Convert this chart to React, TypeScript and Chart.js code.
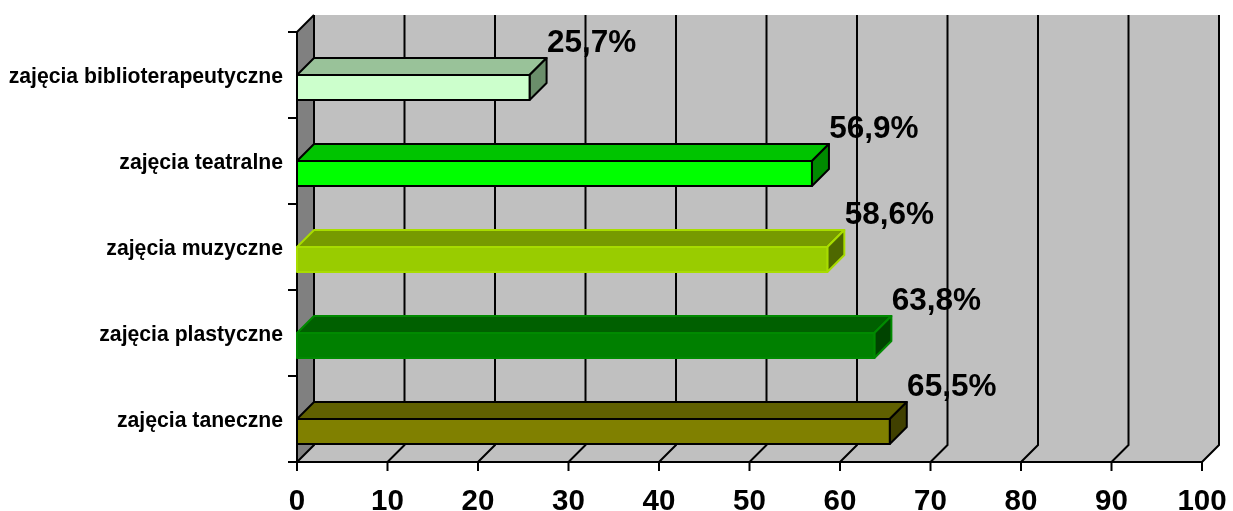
import React, { useEffect, useRef } from "react";
import { Chart, registerables } from "chart.js";

Chart.register(...registerables);

const categories = [
  "zajęcia biblioterapeutyczne",
  "zajęcia teatralne",
  "zajęcia muzyczne",
  "zajęcia plastyczne",
  "zajęcia taneczne",
];
const values = [25.7, 56.9, 58.6, 63.8, 65.5];
const frontColors = ["#CCFFCC", "#00FF00", "#99CC00", "#008000", "#808000"];
const topColors = ["#99C299", "#00C400", "#779A00", "#006000", "#606000"];
const sideColors = ["#6B8E6B", "#008A00", "#4E6800", "#004400", "#404000"];
const edgeColors = ["#000000", "#000000", "#A8DC00", "#008A00", "#000000"];

const FONT = '"Liberation Sans", Arial, sans-serif';
const D = 17;

const threeD = {
  id: "threeD",
  beforeDatasetsDraw(chart: any) {
    const { ctx, chartArea, scales } = chart;
    const { left, right, top, bottom } = chartArea;
    const x = scales.x;
    ctx.save();
    // back wall
    ctx.fillStyle = "#C0C0C0";
    ctx.fillRect(left + D, top - D, right - left, bottom - top);
    // floor
    ctx.beginPath();
    ctx.moveTo(left, bottom);
    ctx.lineTo(right, bottom);
    ctx.lineTo(right + D, bottom - D);
    ctx.lineTo(left + D, bottom - D);
    ctx.closePath();
    ctx.fill();
    // left wall
    ctx.fillStyle = "#808080";
    ctx.beginPath();
    ctx.moveTo(left, top);
    ctx.lineTo(left + D, top - D);
    ctx.lineTo(left + D, bottom - D);
    ctx.lineTo(left, bottom);
    ctx.closePath();
    ctx.fill();

    ctx.strokeStyle = "#000";
    ctx.lineWidth = 2;
    ctx.lineCap = "butt";
    // grid lines
    for (let v = 0; v <= 100; v += 10) {
      const px = x.getPixelForValue(v);
      ctx.beginPath();
      ctx.moveTo(px, bottom);
      ctx.lineTo(px + D, bottom - D);
      ctx.lineTo(px + D, top - D);
      ctx.stroke();
      // tick marks
      ctx.beginPath();
      ctx.moveTo(px, bottom);
      ctx.lineTo(px, bottom + 9);
      ctx.stroke();
    }
    // left wall top edge
    ctx.beginPath();
    ctx.moveTo(left, top);
    ctx.lineTo(left + D, top - D);
    ctx.stroke();
    // axes
    ctx.beginPath();
    ctx.moveTo(left, top);
    ctx.lineTo(left, bottom);
    ctx.lineTo(right, bottom);
    ctx.stroke();
    // y tick marks at category boundaries
    const n = categories.length;
    const band = (bottom - top) / n;
    for (let i = 0; i <= n; i++) {
      const py = top + i * band;
      ctx.beginPath();
      ctx.moveTo(left - 9, py);
      ctx.lineTo(left, py);
      ctx.stroke();
    }
    ctx.restore();
  },
  afterDatasetsDraw(chart: any) {
    const { ctx } = chart;
    const meta = chart.getDatasetMeta(0);
    ctx.save();
    ctx.lineWidth = 2;
    ctx.lineJoin = "round";
    meta.data.forEach((bar: any, i: number) => {
      const xs = bar.base;
      const xe = bar.x;
      const ft = bar.y;
      const fb = bar.y + 25;
      ctx.strokeStyle = edgeColors[i];
      // top face
      ctx.fillStyle = topColors[i];
      ctx.beginPath();
      ctx.moveTo(xs, ft);
      ctx.lineTo(xe, ft);
      ctx.lineTo(xe + D, ft - D);
      ctx.lineTo(xs + D, ft - D);
      ctx.closePath();
      ctx.fill();
      ctx.stroke();
      // side face
      ctx.fillStyle = sideColors[i];
      ctx.beginPath();
      ctx.moveTo(xe, ft);
      ctx.lineTo(xe + D, ft - D);
      ctx.lineTo(xe + D, fb - D);
      ctx.lineTo(xe, fb);
      ctx.closePath();
      ctx.fill();
      ctx.stroke();
      // front face
      ctx.fillStyle = frontColors[i];
      ctx.beginPath();
      ctx.rect(xs, ft, xe - xs, fb - ft);
      ctx.fill();
      ctx.stroke();
      // value label
      ctx.fillStyle = "#000";
      ctx.font = `bold 31.5px ${FONT}`;
      ctx.textAlign = "center";
      ctx.textBaseline = "alphabetic";
      const txt = values[i].toFixed(1).replace(".", ",") + "%";
      ctx.fillText(txt, xe + D + 45, ft - D - 6);
    });
    ctx.restore();
  },
};

export default function App() {
  const ref = useRef<HTMLCanvasElement>(null);
  useEffect(() => {
    const chart = new Chart(ref.current!, {
      type: "bar",
      data: {
        labels: categories,
        datasets: [
          {
            data: values,
            backgroundColor: "rgba(0,0,0,0)",
            borderWidth: 0,
          },
        ],
      },
      options: {
        indexAxis: "y",
        animation: false,
        responsive: true,
        maintainAspectRatio: false,
        layout: { padding: { top: 32, right: 31, left: 0, bottom: 0 } },
        plugins: { legend: { display: false }, tooltip: { enabled: false } },
        scales: {
          x: {
            type: "linear",
            min: 0,
            max: 100,
            ticks: {
              stepSize: 10,
              color: "#000",
              font: { family: FONT, size: 29.5, weight: "bold" },
              padding: 22,
              maxRotation: 0,
            },
            grid: { display: false, drawTicks: false },
            border: { display: false },
            afterFit: (s: any) => {
              s.height = 49;
              s.paddingLeft = 0;
              s.paddingRight = 0;
            },
          },
          y: {
            type: "category",
            ticks: {
              color: "#000",
              font: { family: FONT, size: 21.2, weight: "bold" },
              padding: 14,
              labelOffset: 2,
            },
            grid: { display: false, drawTicks: false },
            border: { display: false },
            afterFit: (s: any) => {
              s.width = 297;
              s.paddingTop = 0;
              s.paddingBottom = 0;
            },
          },
        },
      },
      plugins: [threeD],
    } as any);
    return () => chart.destroy();
  }, []);
  return (
    <div
      style={{
        position: "absolute",
        left: 0,
        top: 0,
        width: 1233,
        height: 511,
        background: "#fff",
      }}
    >
      <canvas ref={ref} />
    </div>
  );
}
